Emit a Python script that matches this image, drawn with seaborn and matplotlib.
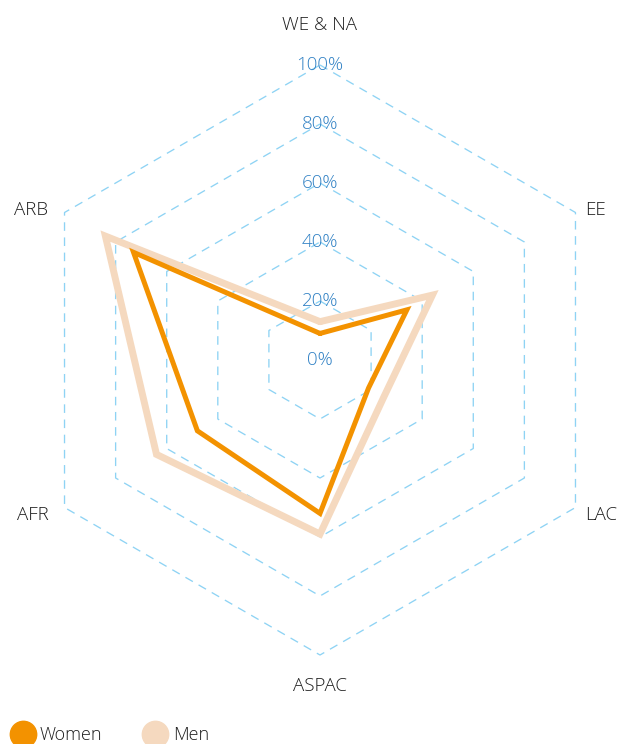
import numpy as np
import pandas as pd
import matplotlib.pyplot as plt
import seaborn as sns
from matplotlib.lines import Line2D

categories = ["WE & NA", "EE", "LAC", "ASPAC", "AFR", "ARB"]
women = [9, 34, 19, 52, 48, 73]
men = [13, 44, 25, 59, 64, 84]
ring_levels = [20, 40, 60, 80, 100]
tick_values = [0, 20, 40, 60, 80, 100]
tick_labels = ["0%", "20%", "40%", "60%", "80%", "100%"]

WOMEN_COLOR = "#F39200"
MEN_COLOR = "#F5D9BF"
GRID_COLOR = "#8ED3F4"
TICK_COLOR = "#2F80C4"
TEXT_COLOR = "#1E1E1E"

sns.set_theme(style="white")
plt.rcParams["font.family"] = ["Open Sans", "DejaVu Sans"]
plt.rcParams["font.weight"] = "light"

angles = np.deg2rad(90 - 60 * np.arange(len(categories)))


def to_frame(values, name):
    vals = np.array(values + values[:1], dtype=float)
    ang = np.append(angles, angles[0])
    return pd.DataFrame({"series": name, "x": vals * np.cos(ang), "y": vals * np.sin(ang)})


fig = plt.figure(figsize=(6.25, 7.44), dpi=100)
ax = fig.add_axes([0, 0, 1, 1])
scale = 2.95  # px per percent

# hexagonal dashed grid
ang_c = np.append(angles, angles[0])
for lvl in ring_levels:
    ax.plot(lvl * np.cos(ang_c), lvl * np.sin(ang_c), color=GRID_COLOR,
            lw=0.95, ls=(0, (6.5, 5)), zorder=1)

for v, lab in zip(tick_values, tick_labels):
    ax.text(0, v, lab, ha="center", va="center", fontsize=13.5, color=TICK_COLOR, zorder=2)

sns.lineplot(data=to_frame(men, "Men"), x="x", y="y", sort=False, estimator=None,
             color=MEN_COLOR, lw=5, ax=ax, legend=False, solid_joinstyle="miter", zorder=3)
sns.lineplot(data=to_frame(women, "Women"), x="x", y="y", sort=False, estimator=None,
             color=WOMEN_COLOR, lw=3.6, ax=ax, legend=False, solid_joinstyle="miter", zorder=4)
ax.set_xlim(-320 / scale, 305 / scale)
ax.set_ylim((360 - 744) / scale, 360 / scale)
ax.axis("off")

# category labels
for cat, a in zip(categories, angles):
    cx, cy = np.cos(a), np.sin(a)
    if abs(cx) < 0.01:
        r = 113.5 if cy > 0 else 110.5
        ax.text(0, r * cy, cat, ha="center", va="center", fontsize=13.5, color=TEXT_COLOR)
    else:
        x = 100 * cx + (3.3 if cx > 0 else -5.5)
        y = 100 * cy + (1.0 if cy > 0 else -2.5)
        ax.text(x, y, cat, ha="left" if cx > 0 else "right", va="center",
                fontsize=13.5, color=TEXT_COLOR)

handles = [Line2D([], [], marker="o", ls="", color=WOMEN_COLOR, markersize=19),
           Line2D([], [], marker="o", ls="", color=MEN_COLOR, markersize=19)]
fig.legend(handles, ["Women", "Men"], loc="center left", bbox_to_anchor=(0.0, 0.012),
           ncol=2, frameon=False, fontsize=13, handlelength=1.5, handletextpad=0.2,
           columnspacing=2.2, borderpad=0, borderaxespad=0.5, labelcolor=TEXT_COLOR)

fig.savefig("out.png", dpi=100)
